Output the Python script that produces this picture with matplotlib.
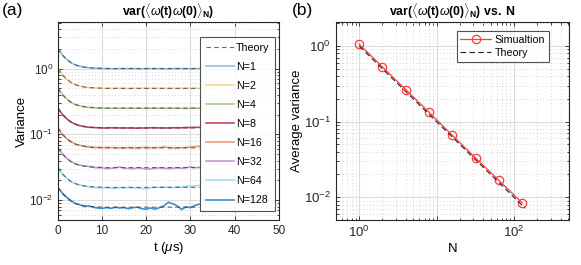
import numpy as np
import matplotlib
matplotlib.use("Agg")
import matplotlib.pyplot as plt
from matplotlib.ticker import LogLocator, FixedLocator, FixedFormatter, NullFormatter

plt.rcParams['font.family'] = ['Liberation Sans', 'DejaVu Sans']
plt.rcParams['mathtext.fontset'] = 'custom'
plt.rcParams['mathtext.rm'] = 'Liberation Sans'
plt.rcParams['mathtext.it'] = 'Liberation Sans:italic'
plt.rcParams['mathtext.bf'] = 'Liberation Sans:bold'
plt.rcParams['mathtext.sf'] = 'Liberation Sans'

# ---------- data ----------
t_us = list(range(0, 33))
# normalised theory decay (value * N)
theory_shape = [2.0, 1.61, 1.37, 1.22, 1.135, 1.08, 1.05, 1.03, 1.018, 1.011, 1.007,
                1.0, 1.0, 1.0, 1.0, 1.0, 1.0, 1.0, 1.0, 1.0, 1.0, 1.0, 1.0, 1.0,
                1.0, 1.0, 1.0, 1.0, 1.0, 1.0, 1.0, 1.0, 1.0]
n_values = [1, 2, 4, 8, 16, 32, 64, 128]

sim_n1 = [2.0, 1.60, 1.37, 1.22, 1.13, 1.08, 1.05, 1.03, 1.02, 1.01, 1.00, 1.00, 1.00,
          0.99, 1.00, 1.00, 1.00, 1.00, 1.00, 0.99, 1.00, 1.00, 1.00, 1.00, 0.99, 0.99,
          1.00, 1.00, 1.00, 1.00, 0.99, 1.00, 1.00]
sim_n2 = [1.0, 0.80, 0.685, 0.61, 0.565, 0.54, 0.525, 0.515, 0.51, 0.505, 0.50, 0.50,
          0.50, 0.50, 0.50, 0.50, 0.495, 0.50, 0.50, 0.50, 0.50, 0.50, 0.50, 0.50, 0.50,
          0.50, 0.50, 0.50, 0.50, 0.50, 0.50, 0.50, 0.50]
sim_n4 = [0.50, 0.40, 0.345, 0.305, 0.283, 0.27, 0.262, 0.257, 0.254, 0.252, 0.25, 0.25,
          0.25, 0.25, 0.25, 0.25, 0.25, 0.25, 0.25, 0.249, 0.25, 0.25, 0.25, 0.25, 0.25,
          0.25, 0.25, 0.25, 0.248, 0.248, 0.249, 0.25, 0.25]
sim_n8 = [0.25, 0.20, 0.172, 0.153, 0.142, 0.135, 0.131, 0.128, 0.127, 0.126, 0.125,
          0.125, 0.126, 0.126, 0.125, 0.125, 0.125, 0.125, 0.124, 0.125, 0.125, 0.126,
          0.126, 0.125, 0.125, 0.125, 0.126, 0.126, 0.126, 0.127, 0.127, 0.128, 0.128]
sim_n16 = [0.125, 0.10, 0.086, 0.077, 0.071, 0.068, 0.066, 0.064, 0.063, 0.063, 0.0625,
           0.063, 0.063, 0.0625, 0.062, 0.062, 0.063, 0.0625, 0.062, 0.063, 0.063, 0.0625,
           0.0625, 0.063, 0.064, 0.063, 0.062, 0.0625, 0.0625, 0.063, 0.064, 0.065, 0.066]
sim_n32 = [0.0625, 0.050, 0.043, 0.0385, 0.0355, 0.034, 0.033, 0.0325, 0.0315, 0.031,
           0.031, 0.030, 0.0305, 0.031, 0.032, 0.0305, 0.0305, 0.030, 0.031, 0.0305,
           0.0295, 0.030, 0.0305, 0.031, 0.0305, 0.030, 0.0305, 0.031, 0.0305, 0.031,
           0.032, 0.031, 0.0315]
sim_n64 = [0.031, 0.025, 0.0215, 0.019, 0.0178, 0.017, 0.0165, 0.016, 0.0158, 0.0155,
           0.0153, 0.0155, 0.0153, 0.015, 0.0155, 0.0152, 0.0156, 0.0154, 0.0152, 0.015,
           0.0148, 0.0155, 0.0158, 0.0156, 0.0159, 0.0157, 0.0155, 0.016, 0.0157, 0.0162,
           0.0163, 0.0165, 0.0167]
sim_n128 = [0.0155, 0.0128, 0.011, 0.0098, 0.0088, 0.0085, 0.008, 0.0082, 0.0078, 0.0076,
            0.0075, 0.0077, 0.0075, 0.0078, 0.0076, 0.0077, 0.0074, 0.0077, 0.0078, 0.0074,
            0.0073, 0.0076, 0.0073, 0.0077, 0.0082, 0.0093, 0.0088, 0.0082, 0.0072, 0.0079,
            0.0077, 0.0083, 0.0087]
sim_curves = [sim_n1, sim_n2, sim_n4, sim_n8, sim_n16, sim_n32, sim_n64, sim_n128]
curve_colors = ['#8ec0e3', '#f6d68c', '#acd08a', '#c8465e', '#f09a78', '#c39ccf',
                '#9fddf6', '#3f8fcb']

avg_var_sim = [1.06, 0.53, 0.265, 0.133, 0.066, 0.033, 0.0167, 0.0084]
theory_n_range = [1, 140]
theory_avg = [1.0, 1 / 140]

# ---------- figure ----------
fig = plt.figure(figsize=(5.81, 2.65), dpi=100)
ax_a = fig.add_axes([0.0998, 0.170, 0.380, 0.747])
ax_b = fig.add_axes([0.578, 0.170, 0.401, 0.747])

fs_label = 9.5
fs_title = 8.8
fs_legend = 7.7


def matlab_axes(ax, tick_size):
    ax.tick_params(which='both', direction='in', top=True, right=True,
                   labelsize=tick_size, colors='#262626', width=0.6)
    ax.tick_params(which='major', length=3)
    ax.tick_params(which='minor', length=1.8)
    for sp in ax.spines.values():
        sp.set_color('#262626')
        sp.set_linewidth(0.8)
    ax.set_axisbelow(True)


# ---- panel (a) ----
ax_a.set_yscale('log')
for n, sim, col in zip(n_values, sim_curves, curve_colors):
    ax_a.plot(t_us, sim, color=col, lw=1.2, label=f'N={n}')
for n in n_values:
    th = [v / n for v in theory_shape]
    ax_a.plot(t_us, th, color='#3a3a3a', lw=0.8, ls=(0, (4, 3)), alpha=0.75,
              label='Theory' if n == 1 else None)
ax_a.set_xlim(0, 50)
ax_a.set_ylim(0.005, 5.1)
ax_a.set_xticks([0, 10, 20, 30, 40, 50])
ax_a.yaxis.set_major_locator(FixedLocator([1e-2, 1e-1, 1e0]))
ax_a.yaxis.set_minor_locator(LogLocator(base=10, subs=np.arange(2, 10), numticks=20))
ax_a.yaxis.set_minor_formatter(NullFormatter())
ax_a.grid(True, which='major', color='#dcdcdc', lw=0.8)
ax_a.grid(True, which='minor', axis='y', color='#c8c8c8', lw=0.6, ls=(0, (1, 3)))
matlab_axes(ax_a, 8.5)
ax_a.set_xlabel(r't ($\mu$s)', fontsize=fs_label, labelpad=2)
ax_a.set_ylabel('Variance', fontsize=fs_label, labelpad=1)
ax_a.set_title(r'$\mathbf{var(}\langle\omega\mathbf{(t)}\omega\mathbf{(0)}\rangle_{\mathbf{N}}\mathbf{)}$',
               fontsize=fs_title, pad=4)

handles, labels = ax_a.get_legend_handles_labels()
order = [labels.index('Theory')] + [labels.index(f'N={n}') for n in n_values]
leg_a = ax_a.legend([handles[i] for i in order], [labels[i] for i in order],
                    loc='upper right', bbox_to_anchor=(0.985, 0.926), fontsize=fs_legend,
                    frameon=True, fancybox=False, edgecolor='#262626',
                    handlelength=2.7, handletextpad=0.15, labelspacing=0.85,
                    borderpad=0.55, borderaxespad=0)
leg_a.get_frame().set_linewidth(0.8)

# ---- panel (b) ----
ax_b.set_xscale('log')
ax_b.set_yscale('log')
ax_b.plot(n_values, avg_var_sim, color='#ff3b3b', lw=0.9, marker='o', ms=6,
          mfc='none', mec='#ff3b3b', mew=0.9, label='Simualtion')
ax_b.plot(theory_n_range, theory_avg, color='#222222', lw=0.8, ls=(0, (5, 3)),
          label='Theory')
ax_b.set_xlim(0.5, 512)
ax_b.set_ylim(0.005, 2.08)
ax_b.xaxis.set_major_locator(FixedLocator([1, 10, 100]))
ax_b.xaxis.set_major_formatter(FixedFormatter([r'$10^0$', '', r'$10^2$']))
ax_b.xaxis.set_minor_locator(LogLocator(base=10, subs=np.arange(2, 10), numticks=20))
ax_b.xaxis.set_minor_formatter(NullFormatter())
ax_b.yaxis.set_major_locator(FixedLocator([1e-2, 1e-1, 1e0]))
ax_b.yaxis.set_minor_locator(LogLocator(base=10, subs=np.arange(2, 10), numticks=20))
ax_b.yaxis.set_minor_formatter(NullFormatter())
ax_b.grid(True, which='major', color='#dcdcdc', lw=0.8)
ax_b.grid(True, which='minor', color='#c8c8c8', lw=0.6, ls=(0, (1, 3)))
matlab_axes(ax_b, 9.5)
ax_b.set_xlabel('N', fontsize=fs_label, labelpad=2)
ax_b.set_ylabel('Average variance', fontsize=fs_label, labelpad=1)
ax_b.set_title(r'$\mathbf{var(}\langle\omega\mathbf{(t)}\omega\mathbf{(0)}\rangle_{\mathbf{N}}\mathbf{)\ vs.\ N}$',
               fontsize=fs_title, pad=4)
leg_b = ax_b.legend(loc='upper right', bbox_to_anchor=(0.914, 0.955), fontsize=fs_legend,
                    frameon=True, fancybox=False, edgecolor='#262626',
                    handlelength=2.9, handletextpad=0.3, labelspacing=0.3,
                    borderpad=0.35, borderaxespad=0)
leg_b.get_frame().set_linewidth(0.8)

fig.text(0.004, 0.99, '(a)', fontsize=12.5, va='top', ha='left')
fig.text(0.503, 0.99, '(b)', fontsize=12.5, va='top', ha='left')

fig.savefig('out.png', dpi=100, facecolor='white')
